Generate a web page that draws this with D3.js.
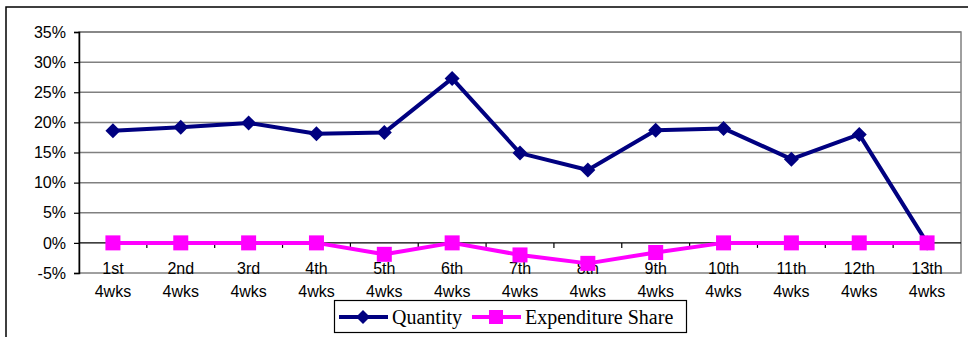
<!DOCTYPE html>
<html>
<head>
<meta charset="utf-8">
<script src="https://cdn.jsdelivr.net/npm/d3@7"></script>
<style>
  html, body { margin: 0; padding: 0; background: #fff; }
  svg { display: block; }
</style>
</head>
<body>
<svg id="chart" width="968" height="337"></svg>
<script>
const categories = ["1st","2nd","3rd","4th","5th","6th","7th","8th","9th","10th","11th","12th","13th"];
const subLabel = "4wks";
const quantity = [18.6, 19.2, 19.9, 18.1, 18.3, 27.3, 14.9, 12.1, 18.7, 19.0, 13.9, 18.0, 0];
const expenditureShare = [0, 0, 0, 0, -1.9, 0, -2.0, -3.4, -1.6, 0, 0, 0, 0];
const yTicks = [-5, 0, 5, 10, 15, 20, 25, 30, 35];
const seriesNames = ["Quantity", "Expenditure Share"];

const svg = d3.select("#chart");
const pLeft = 79, pRight = 961, pTop = 32, pBottom = 273;

// outer chart border
svg.append("rect").attr("x", 6).attr("y", 7).attr("width", 1000).attr("height", 400)
  .attr("fill", "#fff").attr("stroke", "#000").attr("stroke-width", 1.5);

const x = d3.scaleBand().domain(categories).range([pLeft, pRight]).paddingInner(0).paddingOuter(0);
const y = d3.scaleLinear().domain([-5, 35]).range([pBottom, pTop]);

// plot area border (grey)
svg.append("rect").attr("x", pLeft).attr("y", pTop).attr("width", pRight - pLeft).attr("height", pBottom - pTop)
  .attr("fill", "#fff").attr("stroke", "#808080").attr("stroke-width", 1.5);

// gridlines
svg.append("g").selectAll("line").data(yTicks.filter(d => d > 0)).join("line")
  .attr("x1", pLeft).attr("x2", pRight)
  .attr("y1", d => y(d)).attr("y2", d => y(d))
  .attr("stroke", "#808080").attr("stroke-width", 1.5);

// y axis
const yAxis = d3.axisLeft(y).tickValues(yTicks).tickFormat(d => d + "%").tickSize(5).tickPadding(8);
const gy = svg.append("g").attr("transform", `translate(${pLeft},0)`).call(yAxis);
gy.select(".domain").attr("stroke", "#000").attr("stroke-width", 1.5);
gy.selectAll(".tick line").attr("stroke", "#000").attr("stroke-width", 1.2);
gy.selectAll(".tick text").attr("font-family", "Liberation Sans, Arial, sans-serif")
  .attr("font-size", 16).attr("fill", "#000");

// x axis at 0%
const y0 = y(0);
svg.append("line").attr("x1", pLeft).attr("x2", pRight).attr("y1", y0).attr("y2", y0)
  .attr("stroke", "#000").attr("stroke-width", 1.2);
const boundaries = categories.slice(1).map(c => x(c));
svg.append("g").selectAll("line").data(boundaries).join("line")
  .attr("x1", d => d).attr("x2", d => d).attr("y1", y0).attr("y2", y0 + 5)
  .attr("stroke", "#000").attr("stroke-width", 1.2);

// x labels (two lines)
const xl = svg.append("g").attr("font-family", "Liberation Sans, Arial, sans-serif")
  .attr("font-size", 16).attr("fill", "#000").attr("text-anchor", "middle");
xl.selectAll("text.l1").data(categories).join("text").attr("class", "l1")
  .attr("x", d => x(d) + x.bandwidth() / 2).attr("y", 274).text(d => d);
xl.selectAll("text.l2").data(categories).join("text").attr("class", "l2")
  .attr("x", d => x(d) + x.bandwidth() / 2).attr("y", 297).text(subLabel);

// lines
const cx = (d, i) => x(categories[i]) + x.bandwidth() / 2;
const lineGen = d3.line().x((d, i) => cx(d, i)).y(d => y(d));

svg.append("path").datum(quantity).attr("d", lineGen)
  .attr("fill", "none").attr("stroke", "#000080").attr("stroke-width", 4).attr("stroke-linejoin", "round");
svg.append("path").datum(expenditureShare).attr("d", lineGen)
  .attr("fill", "none").attr("stroke", "#FF00FF").attr("stroke-width", 4).attr("stroke-linejoin", "round");

// markers
const diamond = s => `M0,${-s}L${s},0L0,${s}L${-s},0Z`;
svg.append("g").selectAll("path").data(quantity).join("path")
  .attr("d", diamond(7.5)).attr("transform", (d, i) => `translate(${cx(d, i)},${y(d)})`)
  .attr("fill", "#000080");
svg.append("g").selectAll("rect").data(expenditureShare).join("rect")
  .attr("x", (d, i) => cx(d, i) - 7.5).attr("y", d => y(d) - 7.5)
  .attr("width", 15).attr("height", 15).attr("fill", "#FF00FF");

// legend
const lg = svg.append("g");
lg.append("rect").attr("x", 334.5).attr("y", 300.5).attr("width", 352).attr("height", 32)
  .attr("fill", "#fff").attr("stroke", "#000").attr("stroke-width", 1.2);
const ly = 317;
lg.append("line").attr("x1", 339).attr("x2", 388).attr("y1", ly).attr("y2", ly)
  .attr("stroke", "#000080").attr("stroke-width", 4);
lg.append("path").attr("d", diamond(7)).attr("transform", `translate(363,${ly})`).attr("fill", "#000080");
lg.append("text").attr("x", 392).attr("y", ly + 7).text(seriesNames[0])
  .attr("font-family", "Liberation Serif, Times New Roman, serif").attr("font-size", 20).attr("fill", "#000");
lg.append("line").attr("x1", 472).attr("x2", 521).attr("y1", ly).attr("y2", ly)
  .attr("stroke", "#FF00FF").attr("stroke-width", 4);
lg.append("rect").attr("x", 489).attr("y", ly - 7).attr("width", 14).attr("height", 14).attr("fill", "#FF00FF");
lg.append("text").attr("x", 525).attr("y", ly + 7).text(seriesNames[1])
  .attr("font-family", "Liberation Serif, Times New Roman, serif").attr("font-size", 20).attr("fill", "#000");
</script>
</body>
</html>
